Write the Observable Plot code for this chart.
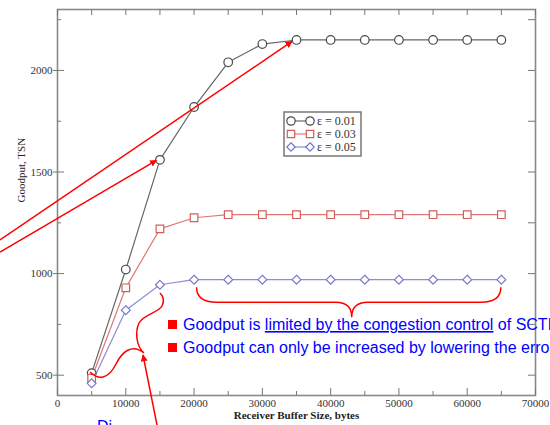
<!DOCTYPE html>
<html><head><meta charset="utf-8">
<script src="https://cdn.jsdelivr.net/npm/d3@7"></script>
<script src="https://cdn.jsdelivr.net/npm/@observablehq/plot@0.6"></script>
<style>
html,body{margin:0;padding:0;background:#fff;overflow:hidden;}
#wrap{width:550px;height:425px;overflow:hidden;position:relative;}
#wrap svg{display:block;}
</style></head><body><div id="wrap"></div>
<script>
// ---- data ----
const bufferSizes = [5000,10000,15000,20000,25000,30000,35000,40000,45000,50000,55000,60000,65000];
const seriesNames = ["ε = 0.01","ε = 0.03","ε = 0.05"];
const goodputEps001 = [510,1020,1560,1820,2040,2130,2150,2150,2150,2150,2150,2150,2150];
const goodputEps003 = [485,930,1220,1275,1290,1290,1290,1290,1290,1290,1290,1290,1290];
const goodputEps005 = [460,820,945,970,970,970,970,970,970,970,970,970,970];
const xTickLabels = [0,10000,20000,30000,40000,50000,60000,70000];
const xMinorTicks = [5000,15000,25000,35000,45000,55000,65000];
const yTickLabels = [500,1000,1500,2000];
const yMinorTicks = [750,1250,1750,2250];
const xLabel = "Receiver Buffer Size, bytes";
const yLabel = "Goodput, TSN";
const note1 = ["Goodput is ", "limited by the congestion control", " of SCTP"];
const note2 = "Goodput can only be increased by lowering the error rate";
const note3 = "Di";

// ---- styles ----
const colors = ["#4a4a4a","#d65c5c","#7878cc"];
const lineColors = ["#666","#e07878","#8c8cd8"];
const symbols = ["circle","square","diamond2"];
const symbolR = [4.3, 4.3, 4.0];
const serif = "'Liberation Serif','Times New Roman',serif";

const W = 550, H = 425, mL = 57, mR = 15, mT = 9, mB = 30;
const xDom = [0,70000], yDom = [400,2300];
const kx = (xDom[1]-xDom[0])/(W-mL-mR);
const ky = (yDom[1]-yDom[0])/(H-mT-mB);

const series = [goodputEps001, goodputEps003, goodputEps005];
const rows = series.map((vals,s) => bufferSizes.map((x,i) => ({x, y: vals[i], s: seriesNames[s]})));

const major = 7, minor = 4;
const allX = xTickLabels.concat(xMinorTicks);
const allY = yTickLabels.concat(yMinorTicks);

const marks = [
  Plot.frame({stroke:"#8a8a8a", strokeWidth:1.6}),
  Plot.ruleX(xTickLabels, {x: d=>d, y1: yDom[0], y2: yDom[0]+major*ky, stroke:"#777"}),
  Plot.ruleX(xMinorTicks, {x: d=>d, y1: yDom[0], y2: yDom[0]+minor*ky, stroke:"#777"}),
  Plot.ruleX(allX, {x: d=>d, y1: yDom[1], y2: yDom[1]-6*ky, stroke:"#777"}),
  Plot.ruleY(yTickLabels, {y: d=>d, x1: xDom[0], x2: xDom[0]+major*kx, stroke:"#777"}),
  Plot.ruleY(yMinorTicks, {y: d=>d, x1: xDom[0], x2: xDom[0]+minor*kx, stroke:"#777"}),
  Plot.ruleY(allY, {y: d=>d, x1: xDom[1], x2: xDom[1]-7*kx, stroke:"#777"}),
  Plot.axisX(xTickLabels, {tickSize:0, tickPadding:4, tickFormat: d=>String(d), fontSize:11, fill:"#333", label:null}),
  Plot.axisY(yTickLabels, {tickSize:4, tickPadding:1, tickFormat: d=>String(d), fontSize:11, fill:"#333", stroke:"#777", label:null}),
  Plot.text([xLabel], {frameAnchor:"bottom", dy:23, fontSize:11, fill:"#222", fontWeight:"bold"}),
  Plot.text([yLabel], {frameAnchor:"left", dx:-36, rotate:-90, fontSize:11, fill:"#222"}),
];
rows.forEach((r,s) => {
  marks.push(Plot.line(r, {x:"x", y:"y", stroke: lineColors[s], strokeWidth:1.2}));
});
rows.forEach((r,s) => {
  marks.push(Plot.dot(r, {x:"x", y:"y", symbol: ()=>symbols[s], r: symbolR[s], stroke: colors[s], fill:"white", strokeWidth:1.2}));
});

const plot = Plot.plot({
  width: W, height: H,
  marginLeft: mL, marginRight: mR, marginTop: mT, marginBottom: mB,
  style: {fontFamily: serif, background:"white", overflow:"hidden"},
  x: {domain: xDom, axis: null},
  y: {domain: yDom, axis: null},
  symbol: {type:"identity"},
  marks
});
document.getElementById("wrap").appendChild(plot);

const X = plot.scale("x"), Y = plot.scale("y");
const svg = d3.select(plot);

// ---- legend ----
const lg = svg.append("g").attr("transform","translate(284,112)").attr("text-anchor","start");
lg.append("rect").attr("width",77).attr("height",44).attr("fill","white").attr("stroke","#777").attr("stroke-width",1.5);
const symGen = [d3.symbolCircle, d3.symbolSquare, d3.symbolDiamond2];
seriesNames.forEach((name,i) => {
  const yy = 9 + i*13;
  const g = lg.append("g");
  g.append("line").attr("x1",7).attr("x2",26).attr("y1",yy).attr("y2",yy).attr("stroke",lineColors[i]).attr("stroke-width",1.2);
  [7,26].forEach(cx => {
    g.append("path").attr("d", d3.symbol(symGen[i], i===2?45:55)()).attr("transform",`translate(${cx},${yy})`)
      .attr("fill","white").attr("stroke",colors[i]).attr("stroke-width",1.2);
  });
  g.append("text").attr("x",33).attr("y",yy+4).attr("text-anchor","start").attr("font-family",serif).attr("font-size",12).attr("fill","#333").text(name);
});

// ---- annotations ----
const defs = svg.append("defs");
defs.append("marker").attr("id","ah").attr("viewBox","0 0 10 10").attr("refX",9).attr("refY",5)
  .attr("markerWidth",7).attr("markerHeight",7).attr("orient","auto-start-reverse").attr("markerUnits","userSpaceOnUse")
  .append("path").attr("d","M0,0L10,5L0,10z").attr("fill","#f00").attr("stroke","none");
const ann = svg.append("g").attr("fill","none").attr("stroke","#f00").attr("stroke-width",1.5);
ann.append("line").attr("x1",0).attr("y1",240).attr("x2",X.apply(35000)-4).attr("y2",Y.apply(2150)+2).attr("marker-end","url(#ah)");
ann.append("line").attr("x1",0).attr("y1",252).attr("x2",X.apply(15000)-3).attr("y2",Y.apply(1560)+1).attr("marker-end","url(#ah)");
ann.append("line").attr("x1",158).attr("y1",430).attr("x2",143).attr("y2",355).attr("marker-end","url(#ah)");
const bx0 = X.apply(20000)+3, bx1 = X.apply(65000), by0 = Y.apply(970)+8, bm = (bx0+bx1)/2+3;
ann.append("path").attr("d",
  `M${bx0},${by0} C${bx0},${by0+10} ${bx0+6},${by0+15} ${bx0+20},${by0+15} L${bm-16},${by0+15} C${bm-6},${by0+15} ${bm},${by0+20} ${bm},${by0+30} C${bm},${by0+20} ${bm+6},${by0+15} ${bm+16},${by0+15} L${bx1-20},${by0+15} C${bx1-6},${by0+15} ${bx1},${by0+10} ${bx1},${by0}`);
ann.append("path").attr("d",
  "M90,372 C98,380 108,380 116,364 C122,352 132,343 144,353 M144,353 C136,346 135,332 139,323 C144,314 158,313 162,306 C165,300 163,296 160,293");

// ---- slide text ----
const tg = svg.append("g").attr("font-family","'Liberation Sans',Arial,sans-serif").attr("font-size",16).attr("fill","#0000ff").attr("text-anchor","start");
tg.append("rect").attr("x",168).attr("y",320).attr("width",9).attr("height",9).attr("fill","#f00");
tg.append("rect").attr("x",168).attr("y",343).attr("width",9).attr("height",9).attr("fill","#f00");
const t1 = tg.append("text").attr("x",183).attr("y",330);
t1.append("tspan").text(note1[0]);
t1.append("tspan").attr("text-decoration","underline").text(note1[1]);
t1.append("tspan").text(note1[2]);
tg.append("text").attr("x",183).attr("y",353).text(note2);
tg.append("text").attr("x",97).attr("y",432).text(note3);
</script></body></html>
